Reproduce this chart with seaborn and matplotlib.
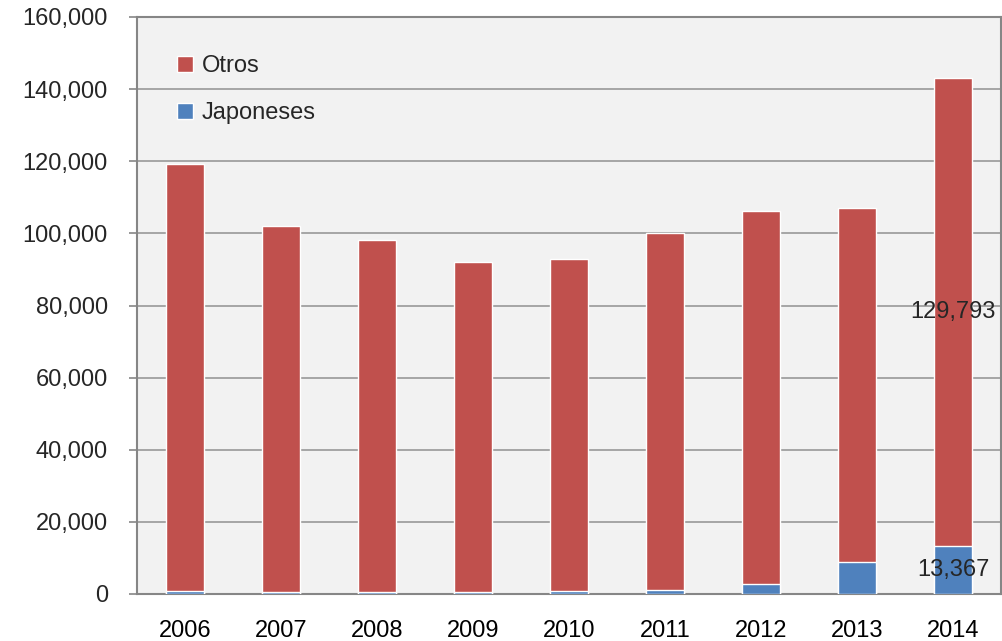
import matplotlib
matplotlib.use("Agg")
import matplotlib.pyplot as plt
import seaborn as sns
import pandas as pd
import numpy as np
from matplotlib.patches import Patch
from matplotlib.ticker import FuncFormatter

years = ["2006", "2007", "2008", "2009", "2010", "2011", "2012", "2013", "2014"]
japoneses = [700, 650, 650, 500, 750, 1200, 2800, 8800, 13367]
otros = [118600, 101400, 97500, 91600, 92100, 98900, 103400, 98300, 129793]

red = "#C0504D"
blue = "#4F81BD"

sns.set_theme(style="white")
plt.rcParams['font.family'] = ['Liberation Sans', 'DejaVu Sans']

df = pd.DataFrame({"year": years, "japoneses": japoneses, "otros": otros})
df["total"] = df["japoneses"] + df["otros"]

fig = plt.figure(figsize=(10.03, 6.41), dpi=100)
ax = fig.add_axes([137 / 1003, 1 - 594 / 641, 864 / 1003, 577 / 641])
ax.set_facecolor("#F2F2F2")

sns.barplot(data=df, x="year", y="total", color=red, width=0.40, saturation=1, ax=ax, zorder=3)
sns.barplot(data=df, x="year", y="japoneses", color=blue, width=0.40, saturation=1, ax=ax, zorder=4)

ax.set_ylim(0, 160000)
ax.set_xlim(-0.5, 8.5)
ax.set_yticks(np.arange(0, 160001, 20000))
ax.yaxis.set_major_formatter(FuncFormatter(lambda v, p: f"{int(v):,}"))
ax.grid(axis="y", color="#999999", linewidth=1.2, zorder=0)
ax.set_axisbelow(True)
ax.set_xlabel("")
ax.set_ylabel("")

ax.set_xticks(np.arange(-0.5, 9, 1), minor=True)
ax.tick_params(axis="x", which="major", length=0, labelsize=17, pad=19, colors="black")
ax.tick_params(axis="x", which="minor", length=6, color="#868686", width=1.2)
ax.tick_params(axis="y", which="major", length=6, color="#868686", width=1.2, labelsize=17, pad=15, left=True)
for s in ax.spines.values():
    s.set_color("#868686")
    s.set_linewidth(1.5)

# data labels for 2014
i = len(years) - 1
ax.text(i, japoneses[i] / 2, f"{japoneses[i]:,}", ha="center", va="center", fontsize=17, zorder=6)
ax.text(i, japoneses[i] + otros[i] / 2, f"{otros[i]:,}", ha="center", va="center", fontsize=17, zorder=6)

handles = [Patch(facecolor=red, label="Otros"), Patch(facecolor=blue, label="Japoneses")]
ax.legend(handles=handles, loc="upper left", bbox_to_anchor=(0.035, 0.95), frameon=False,
          fontsize=17, handlelength=0.7, handleheight=0.7, handletextpad=0.35, labelspacing=1.05,
          borderaxespad=0)

fig.savefig("out.png", dpi=100, facecolor="white")
